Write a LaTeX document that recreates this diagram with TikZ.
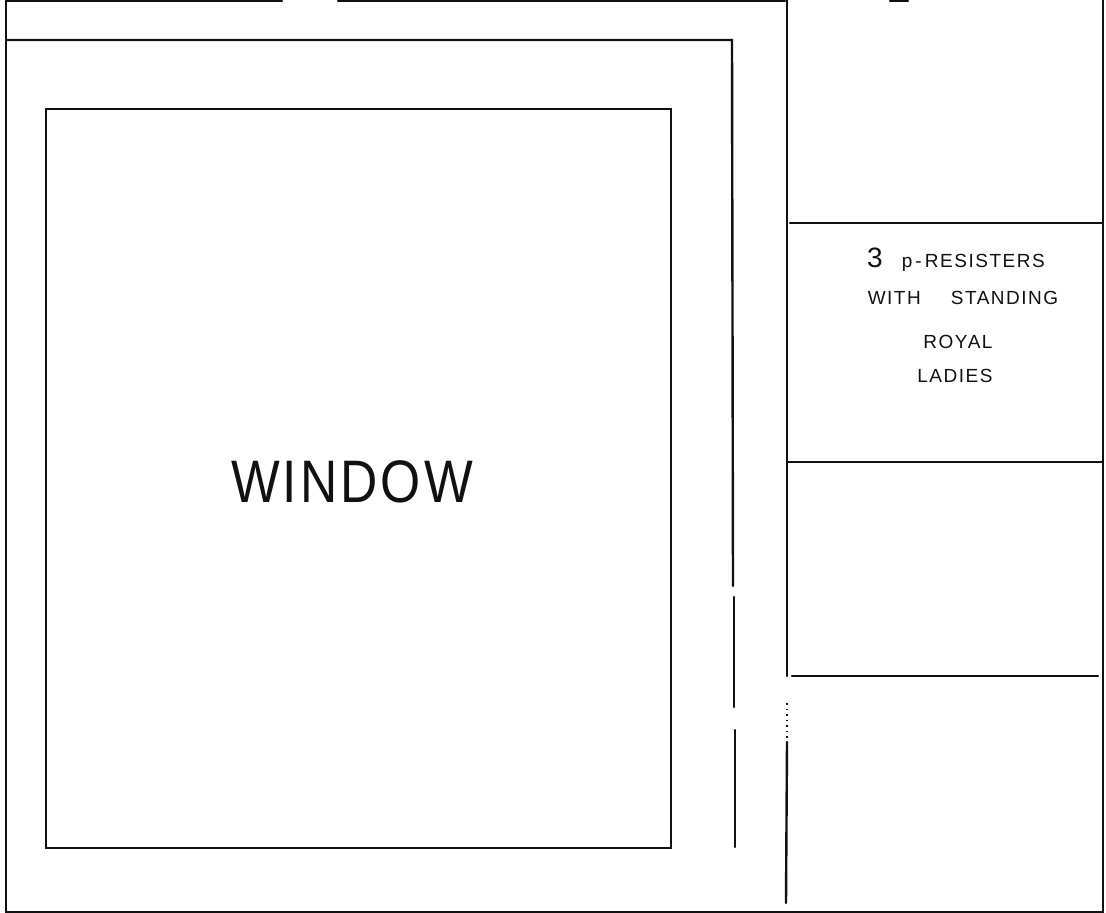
\documentclass[tikz,border=0pt]{standalone}
\usepackage{fontspec}
\setmainfont{Liberation Sans}
\newfontfamily\handfont[LetterSpace=8]{Liberation Sans}
\newfontfamily\wordfont[LetterSpace=6]{Liberation Sans}
\usetikzlibrary{positioning}
\definecolor{ink}{HTML}{111111}
\tikzset{
  wall/.style={draw=ink, line width=2.4pt, line cap=round},
  dotwall/.style={draw=ink, line width=2pt, dash pattern=on 1.5pt off 4pt},
  bigword/.style={font=\wordfont\fontsize{60}{66}\selectfont, text=ink, xscale=0.86, inner sep=0pt},
  note/.style={font=\handfont\fontsize{19}{21}\selectfont, text=ink, anchor=base, inner sep=0pt}
}

\begin{document}
\begin{tikzpicture}[x=1pt, y=-1pt]
\useasboundingbox (0,0) rectangle (1106,913);
% outer frame
\draw[wall] (282,1) -- (6,1) -- (6,912) -- (1103,912) -- (1103,0);
\draw[wall] (338,1) -- (785,1);
\draw[wall] (890,1) -- (908,1);
% middle frame, right side broken twice
\draw[wall] (6,40) -- (732,40) -- (733,586);
\draw[wall] (734,597) -- (734,707);
\draw[wall] (735,730) -- (735,847);
% window
\draw[wall] (46,109) rectangle (671,848);
\node[bigword] (win) at (352,482) {WINDOW};
% right column
\draw[wall] (787,0) -- (787,676);
\draw[dotwall] (787,703) -- (787,742);
\draw[wall] (787,742) -- (786,903);
\draw[wall] (790,223) -- (1103,223);
\draw[wall] (787,462) -- (1103,462);
\draw[wall] (792,676) -- (1098,676);
\node[note] (n1) at (956,267) {{\fontsize{28}{30}\selectfont 3}\quad p\,-\,RESISTERS};
\node[note] (n2) at (963,304) {WITH\hspace{30pt}STANDING};
\node[note] (n3) at (958,348) {ROYAL};
\node[note] (n4) at (955,382) {LADIES};
\end{tikzpicture}
\end{document}
